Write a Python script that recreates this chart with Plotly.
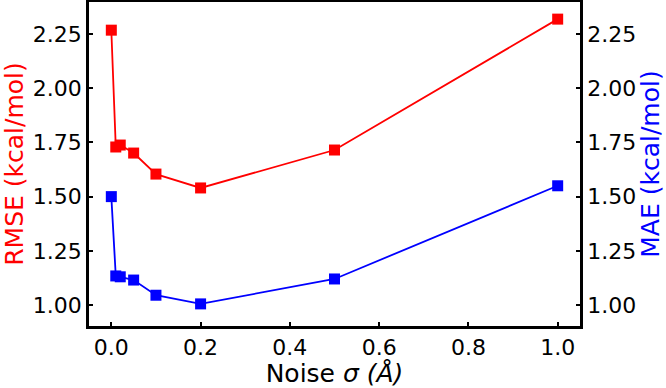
import plotly.graph_objects as go

noise = [0.0, 0.01, 0.02, 0.05, 0.1, 0.2, 0.5, 1.0]
rmse = [2.268, 1.729, 1.738, 1.701, 1.604, 1.540, 1.715, 2.319]
mae = [1.500, 1.134, 1.130, 1.115, 1.045, 1.005, 1.120, 1.550]
yticks = [1.00, 1.25, 1.50, 1.75, 2.00, 2.25]
xticks = [0.0, 0.2, 0.4, 0.6, 0.8, 1.0]

fig = go.Figure()
fig.add_trace(go.Scatter(x=noise, y=rmse, mode="lines+markers",
                         line=dict(color="#ff0000", width=1.8),
                         marker=dict(symbol="square", size=11, color="#ff0000"),
                         yaxis="y"))
fig.add_trace(go.Scatter(x=noise, y=mae, mode="lines+markers",
                         line=dict(color="#0000ff", width=1.8),
                         marker=dict(symbol="square", size=11, color="#0000ff"),
                         yaxis="y2"))

font = "DejaVu Sans"
yr = [0.903, 2.398]
common = dict(showline=True, linecolor="black", linewidth=2.5,
              ticks="inside", ticklen=4, tickwidth=1.5, tickcolor="black",
              showgrid=False, zeroline=False, automargin=False)
fig.update_layout(
    width=666, height=388,
    margin=dict(l=89, r=86, t=2, b=62),
    plot_bgcolor="white", paper_bgcolor="white",
    showlegend=False,
    font=dict(family=font, size=22, color="black"),
    xaxis=dict(range=[-0.05, 1.05], tickvals=xticks, ticktext=["%.1f" % v for v in xticks],
               mirror=True,
               title=dict(text="Noise <i>σ (Å)</i>", font=dict(size=25), standoff=4),
               **common),
    yaxis=dict(range=yr, tickvals=yticks, ticktext=["%.2f" % v for v in yticks],
               title=dict(text="RMSE (kcal/mol)", font=dict(size=25, color="#ff0000"), standoff=6),
               **common),
    yaxis2=dict(range=yr, tickvals=yticks, ticktext=["%.2f" % v for v in yticks],
                overlaying="y", side="right",
                title=dict(text="MAE (kcal/mol)", font=dict(size=25, color="#0000ff"), standoff=6),
                **common),
)
fig.write_html("out.html", config={"displayModeBar": False},
               post_script="document.body.style.margin='0';document.body.style.overflow='hidden';")
